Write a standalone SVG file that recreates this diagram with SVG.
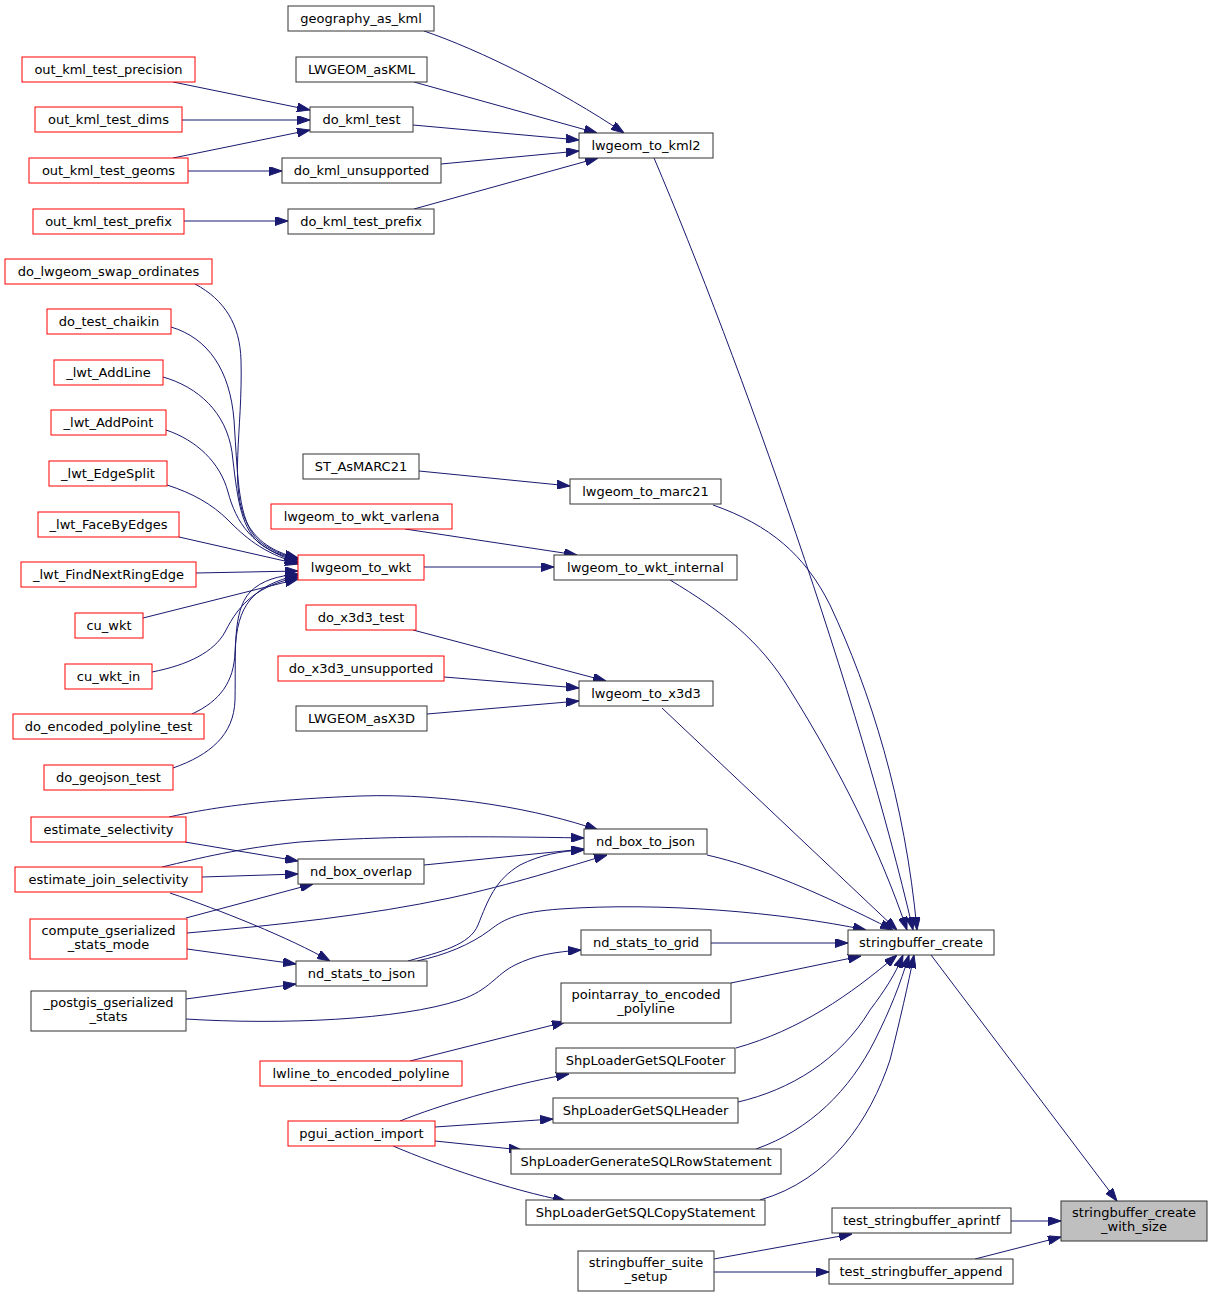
<svg xmlns="http://www.w3.org/2000/svg" width="1212" height="1298" viewBox="0 0 1212 1298">
<style>
.n rect{fill:#fff;stroke:#333;stroke-width:1}
.r rect{stroke:#f00}
.h rect{fill:#bfbfbf}
text{font-family:"DejaVu Sans","Liberation Sans",sans-serif;font-size:13px;fill:#000;text-anchor:middle}
.e path{fill:none;stroke:#191970;stroke-width:1;marker-end:url(#a)}
</style>
<defs>
<marker id="a" markerWidth="13" markerHeight="9" refX="13" refY="4.5" orient="auto" markerUnits="userSpaceOnUse"><path d="M0,0 L13,4.5 L0,9 z" fill="#191970" stroke="#191970" stroke-width="1"/></marker>
</defs>
<rect width="1212" height="1298" fill="#fff"/>
<g class="e" id="edges">
<path d="M173,82 L310,110"/>
<path d="M182,120 L310,120"/>
<path d="M173,158 L310,130"/>
<path d="M188,171 L282,171"/>
<path d="M184,221 L288,221"/>
<path d="M424,31 C480,50 560,90 624,133"/>
<path d="M414,82 L597,133"/>
<path d="M413,125 L579,140"/>
<path d="M441,164 L579,151"/>
<path d="M414,209 L598,158"/>
<path d="M654,158 C740,360 860,700 913,930"/>
<path d="M195,284 C225,300 240,325 241,360 C243,430 228,490 248,525 C260,545 278,553 298,558"/>
<path d="M171,327 C208,338 230,370 234,420 C238,480 238,520 258,540 C270,550 282,555 298,559"/>
<path d="M163,377 C198,387 226,412 232,452 C237,495 240,525 258,542 C270,552 283,556 298,560"/>
<path d="M166,430 C196,440 220,462 228,492 C236,522 252,548 298,562"/>
<path d="M167,485 C192,493 212,504 228,520 C244,536 262,553 298,563"/>
<path d="M179,537 L298,564"/>
<path d="M196,573 L298,571"/>
<path d="M143,618 L298,579"/>
<path d="M152,672 C188,665 214,652 225,632 C240,602 258,586 298,577"/>
<path d="M192,714 C220,701 234,682 235,652 C237,605 252,586 298,575"/>
<path d="M173,768 C210,755 234,735 235,700 C236,650 232,612 250,592 C262,580 278,576 298,574"/>
<path d="M424,567 L554,567"/>
<path d="M405,529 L577,555"/>
<path d="M419,471 L570,486"/>
<path d="M413,630 L606,681"/>
<path d="M444,677 L579,688"/>
<path d="M427,714 L579,701"/>
<path d="M713,505 C770,525 805,555 830,605 C870,690 905,800 917,930"/>
<path d="M670,580 C720,610 760,640 790,690 C840,770 880,850 907,930"/>
<path d="M662,708 L897,930"/>
<path d="M707,855 C760,867 820,893 893,930"/>
<path d="M169,817 C210,808 260,800 360,796 C450,793 540,810 598,830"/>
<path d="M162,867 C200,858 240,848 300,842 C380,836 480,836 584,838"/>
<path d="M185,842 L298,861"/>
<path d="M202,877 L298,874"/>
<path d="M170,893 C220,910 290,938 330,961"/>
<path d="M186,918 L313,884"/>
<path d="M187,933 C280,925 370,915 450,898 C510,885 570,866 607,855"/>
<path d="M187,949 L296,964"/>
<path d="M186,999 L296,984"/>
<path d="M186,1019 C280,1025 400,1020 460,1000 C490,990 495,975 515,965 C535,955 555,952 581,950"/>
<path d="M424,865 L584,849"/>
<path d="M408,961 C440,952 470,945 478,925 C488,900 495,880 520,865 C540,855 560,851 584,850"/>
<path d="M417,961 C445,955 470,945 490,930 C505,918 520,912 560,909 C660,902 780,912 866,930"/>
<path d="M711,943 L848,943"/>
<path d="M731,983 L861,956"/>
<path d="M410,1061 L565,1022"/>
<path d="M736,1048 C800,1030 850,995 897,955"/>
<path d="M400,1121 C440,1105 500,1087 569,1074"/>
<path d="M435,1127 L553,1119"/>
<path d="M435,1141 L522,1150"/>
<path d="M393,1146 C440,1166 510,1190 566,1201"/>
<path d="M738,1102 C790,1090 840,1060 870,1010 C885,990 895,975 903,955"/>
<path d="M756,1149 C810,1130 850,1090 875,1040 C890,1010 900,985 909,955"/>
<path d="M760,1200 C830,1180 870,1120 890,1060 C900,1020 908,985 914,955"/>
<path d="M931,955 L1117,1201"/>
<path d="M1011,1221 L1061,1221"/>
<path d="M975,1259 L1061,1237"/>
<path d="M714,1259 L852,1234"/>
<path d="M714,1272 L829,1272"/>
</g>
<g class="n" id="geography_as_kml"><rect x="288" y="6" width="146" height="25"/><text x="361" y="22.5">geography_as_kml</text></g>
<g class="n" id="LWGEOM_asKML"><rect x="296" y="57" width="131" height="25"/><text x="361.5" y="73.5">LWGEOM_asKML</text></g>
<g class="n r" id="out_kml_test_precision"><rect x="22" y="57" width="173" height="25"/><text x="108.5" y="73.5">out_kml_test_precision</text></g>
<g class="n" id="do_kml_test"><rect x="310" y="107" width="103" height="25"/><text x="361.5" y="123.5">do_kml_test</text></g>
<g class="n r" id="out_kml_test_dims"><rect x="35" y="107" width="147" height="25"/><text x="108.5" y="123.5">out_kml_test_dims</text></g>
<g class="n r" id="out_kml_test_geoms"><rect x="29" y="158" width="159" height="25"/><text x="108.5" y="174.5">out_kml_test_geoms</text></g>
<g class="n" id="do_kml_unsupported"><rect x="282" y="158" width="159" height="25"/><text x="361.5" y="174.5">do_kml_unsupported</text></g>
<g class="n r" id="out_kml_test_prefix"><rect x="33" y="209" width="151" height="25"/><text x="108.5" y="225.5">out_kml_test_prefix</text></g>
<g class="n" id="do_kml_test_prefix"><rect x="288" y="209" width="146" height="25"/><text x="361" y="225.5">do_kml_test_prefix</text></g>
<g class="n" id="lwgeom_to_kml2"><rect x="579" y="133" width="134" height="25"/><text x="646" y="149.5">lwgeom_to_kml2</text></g>
<g class="n r" id="do_lwgeom_swap_ordinates"><rect x="5" y="259" width="207" height="25"/><text x="108.5" y="275.5">do_lwgeom_swap_ordinates</text></g>
<g class="n r" id="do_test_chaikin"><rect x="47" y="309" width="124" height="25"/><text x="109" y="325.5">do_test_chaikin</text></g>
<g class="n r" id="_lwt_AddLine"><rect x="54" y="360" width="109" height="25"/><text x="108.5" y="376.5">_lwt_AddLine</text></g>
<g class="n r" id="_lwt_AddPoint"><rect x="51" y="410" width="115" height="25"/><text x="108.5" y="426.5">_lwt_AddPoint</text></g>
<g class="n r" id="_lwt_EdgeSplit"><rect x="49" y="461" width="118" height="25"/><text x="108" y="477.5">_lwt_EdgeSplit</text></g>
<g class="n r" id="_lwt_FaceByEdges"><rect x="38" y="512" width="141" height="25"/><text x="108.5" y="528.5">_lwt_FaceByEdges</text></g>
<g class="n r" id="_lwt_FindNextRingEdge"><rect x="21" y="562" width="175" height="25"/><text x="108.5" y="578.5">_lwt_FindNextRingEdge</text></g>
<g class="n r" id="cu_wkt"><rect x="75" y="613" width="68" height="25"/><text x="109" y="629.5">cu_wkt</text></g>
<g class="n r" id="cu_wkt_in"><rect x="65" y="664" width="87" height="25"/><text x="108.5" y="680.5">cu_wkt_in</text></g>
<g class="n r" id="do_encoded_polyline_test"><rect x="13" y="714" width="191" height="25"/><text x="108.5" y="730.5">do_encoded_polyline_test</text></g>
<g class="n r" id="do_geojson_test"><rect x="44" y="765" width="129" height="25"/><text x="108.5" y="781.5">do_geojson_test</text></g>
<g class="n" id="ST_AsMARC21"><rect x="303" y="454" width="116" height="25"/><text x="361" y="470.5">ST_AsMARC21</text></g>
<g class="n r" id="lwgeom_to_wkt_varlena"><rect x="271" y="504" width="181" height="25"/><text x="361.5" y="520.5">lwgeom_to_wkt_varlena</text></g>
<g class="n r" id="lwgeom_to_wkt"><rect x="298" y="555" width="126" height="25"/><text x="361" y="571.5">lwgeom_to_wkt</text></g>
<g class="n r" id="do_x3d3_test"><rect x="306" y="605" width="110" height="25"/><text x="361" y="621.5">do_x3d3_test</text></g>
<g class="n r" id="do_x3d3_unsupported"><rect x="278" y="656" width="166" height="25"/><text x="361" y="672.5">do_x3d3_unsupported</text></g>
<g class="n" id="LWGEOM_asX3D"><rect x="296" y="706" width="131" height="25"/><text x="361.5" y="722.5">LWGEOM_asX3D</text></g>
<g class="n" id="lwgeom_to_marc21"><rect x="570" y="479" width="151" height="25"/><text x="645.5" y="495.5">lwgeom_to_marc21</text></g>
<g class="n" id="lwgeom_to_wkt_internal"><rect x="554" y="555" width="183" height="25"/><text x="645.5" y="571.5">lwgeom_to_wkt_internal</text></g>
<g class="n" id="lwgeom_to_x3d3"><rect x="579" y="681" width="134" height="25"/><text x="646" y="697.5">lwgeom_to_x3d3</text></g>
<g class="n r" id="estimate_selectivity"><rect x="31" y="817" width="155" height="25"/><text x="108.5" y="833.5">estimate_selectivity</text></g>
<g class="n r" id="estimate_join_selectivity"><rect x="15" y="867" width="187" height="25"/><text x="108.5" y="883.5">estimate_join_selectivity</text></g>
<g class="n r" id="compute_gserialized_stats_mode"><rect x="30" y="919" width="157" height="40"/><text x="108.5" y="934.5">compute_gserialized</text><text x="108.5" y="948.5">_stats_mode</text></g>
<g class="n" id="_postgis_gserialized_stats"><rect x="31" y="991" width="155" height="40"/><text x="108.5" y="1006.5">_postgis_gserialized</text><text x="108.5" y="1020.5">_stats</text></g>
<g class="n" id="nd_box_overlap"><rect x="298" y="859" width="126" height="25"/><text x="361" y="875.5">nd_box_overlap</text></g>
<g class="n" id="nd_stats_to_json"><rect x="296" y="961" width="131" height="25"/><text x="361.5" y="977.5">nd_stats_to_json</text></g>
<g class="n" id="nd_box_to_json"><rect x="584" y="829" width="123" height="25"/><text x="645.5" y="845.5">nd_box_to_json</text></g>
<g class="n" id="nd_stats_to_grid"><rect x="581" y="930" width="130" height="25"/><text x="646" y="946.5">nd_stats_to_grid</text></g>
<g class="n" id="pointarray_to_encoded_polyline"><rect x="561" y="983" width="170" height="40"/><text x="646" y="998.5">pointarray_to_encoded</text><text x="646" y="1012.5">_polyline</text></g>
<g class="n r" id="lwline_to_encoded_polyline"><rect x="260" y="1061" width="202" height="25"/><text x="361" y="1077.5">lwline_to_encoded_polyline</text></g>
<g class="n" id="ShpLoaderGetSQLFooter"><rect x="556" y="1048" width="179" height="25"/><text x="645.5" y="1064.5">ShpLoaderGetSQLFooter</text></g>
<g class="n r" id="pgui_action_import"><rect x="288" y="1121" width="147" height="25"/><text x="361.5" y="1137.5">pgui_action_import</text></g>
<g class="n" id="ShpLoaderGetSQLHeader"><rect x="553" y="1098" width="185" height="25"/><text x="645.5" y="1114.5">ShpLoaderGetSQLHeader</text></g>
<g class="n" id="ShpLoaderGenerateSQLRowStatement"><rect x="511" y="1149" width="270" height="25"/><text x="646" y="1165.5">ShpLoaderGenerateSQLRowStatement</text></g>
<g class="n" id="ShpLoaderGetSQLCopyStatement"><rect x="526" y="1200" width="239" height="25"/><text x="645.5" y="1216.5">ShpLoaderGetSQLCopyStatement</text></g>
<g class="n" id="stringbuffer_suite_setup"><rect x="578" y="1251" width="136" height="40"/><text x="646" y="1266.5">stringbuffer_suite</text><text x="646" y="1280.5">_setup</text></g>
<g class="n" id="stringbuffer_create"><rect x="848" y="930" width="146" height="25"/><text x="921" y="946.5">stringbuffer_create</text></g>
<g class="n" id="test_stringbuffer_aprintf"><rect x="832" y="1208" width="179" height="25"/><text x="921.5" y="1224.5">test_stringbuffer_aprintf</text></g>
<g class="n" id="test_stringbuffer_append"><rect x="829" y="1259" width="184" height="25"/><text x="921" y="1275.5">test_stringbuffer_append</text></g>
<g class="n h" id="stringbuffer_create_with_size"><rect x="1061" y="1201" width="146" height="40"/><text x="1134" y="1216.5">stringbuffer_create</text><text x="1134" y="1230.5">_with_size</text></g>
</svg>
